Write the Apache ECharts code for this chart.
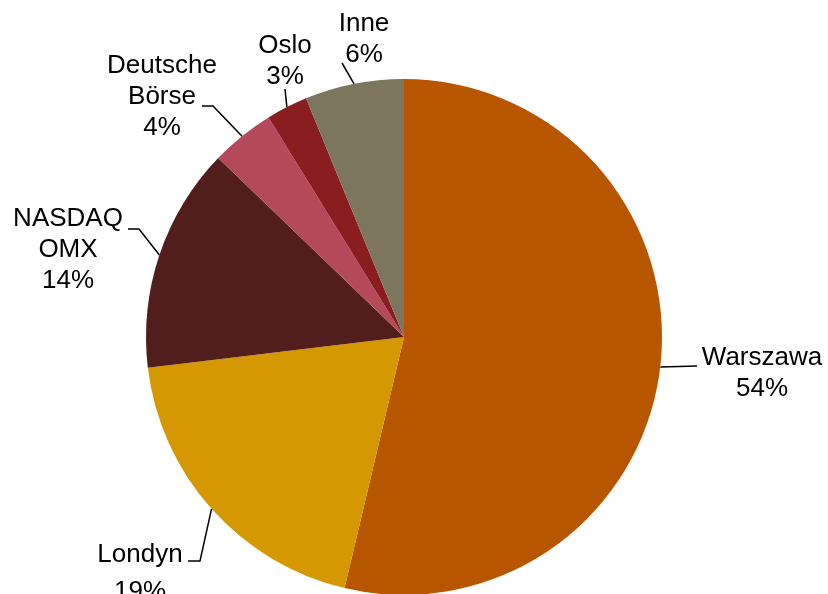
<!DOCTYPE html>
<html>
<head>
<meta charset="utf-8">
<script src="https://cdn.jsdelivr.net/npm/echarts@6/dist/echarts.min.js"></script>
<style>
html,body{margin:0;padding:0;background:#fff;}
#chart{width:828px;height:594px;}
</style>
</head>
<body>
<div id="chart"></div>
<script>
// Data
const categories = ['Warszawa', 'Londyn', 'NASDAQ\nOMX', 'Deutsche\nBörse', 'Oslo', 'Inne'];
const shares = [53.7, 19.4, 14.1, 4.0, 2.6, 6.2];
const colors = ['#B85600', '#D59800', '#511E1C', '#B44A59', '#8A1D1F', '#7C765E'];

// Label placement (layout only): label block centre, line height, and leader-line bend / end near the label
const labelCenters = [
  [762, 373],
  [140, 573],
  [68, 250],
  [162, 97],
  [285, 61],
  [364, 39]
];
const labelLineHeights = [31, 37, 31, 31, 31, 31];
const leaderEnds = [
  [[697, 366]],
  [[200, 561], [188, 561]],
  [[139, 229], [128, 229]],
  [[213, 106], [202, 106]],
  [[285, 89]],
  [[342, 63]]
];

const chart = echarts.init(document.getElementById('chart'), null, {renderer: 'canvas'});
chart.setOption({
  animation: false,
  backgroundColor: '#ffffff',
  series: [{
    type: 'pie',
    center: [404, 337],
    radius: 258,
    startAngle: 90,
    clockwise: true,
    percentPrecision: 0,
    data: categories.map((c, i) => ({
      name: c,
      value: shares[i],
      itemStyle: {color: colors[i]},
      label: {lineHeight: labelLineHeights[i]}
    })),
    itemStyle: {borderWidth: 0},
    label: {
      show: true,
      position: 'outside',
      formatter: '{b}\n{d}%',
      fontFamily: 'Liberation Sans, Arial, sans-serif',
      fontSize: 26,
      lineHeight: 31,
      color: '#000000',
      align: 'center'
    },
    labelLine: {
      show: true,
      length: 15,
      length2: 12,
      lineStyle: {color: '#000000', width: 1.5}
    },
    labelLayout: function (params) {
      const i = params.dataIndex;
      const p = labelCenters[i];
      const out = {x: p[0], y: p[1], align: 'center', verticalAlign: 'middle'};
      if (params.labelLinePoints && params.labelLinePoints.length) {
        const start = params.labelLinePoints[0];
        out.labelLinePoints = [[start[0], start[1]]].concat(leaderEnds[i]);
      }
      return out;
    },
    emphasis: {disabled: true}
  }]
});
</script>
</body>
</html>
